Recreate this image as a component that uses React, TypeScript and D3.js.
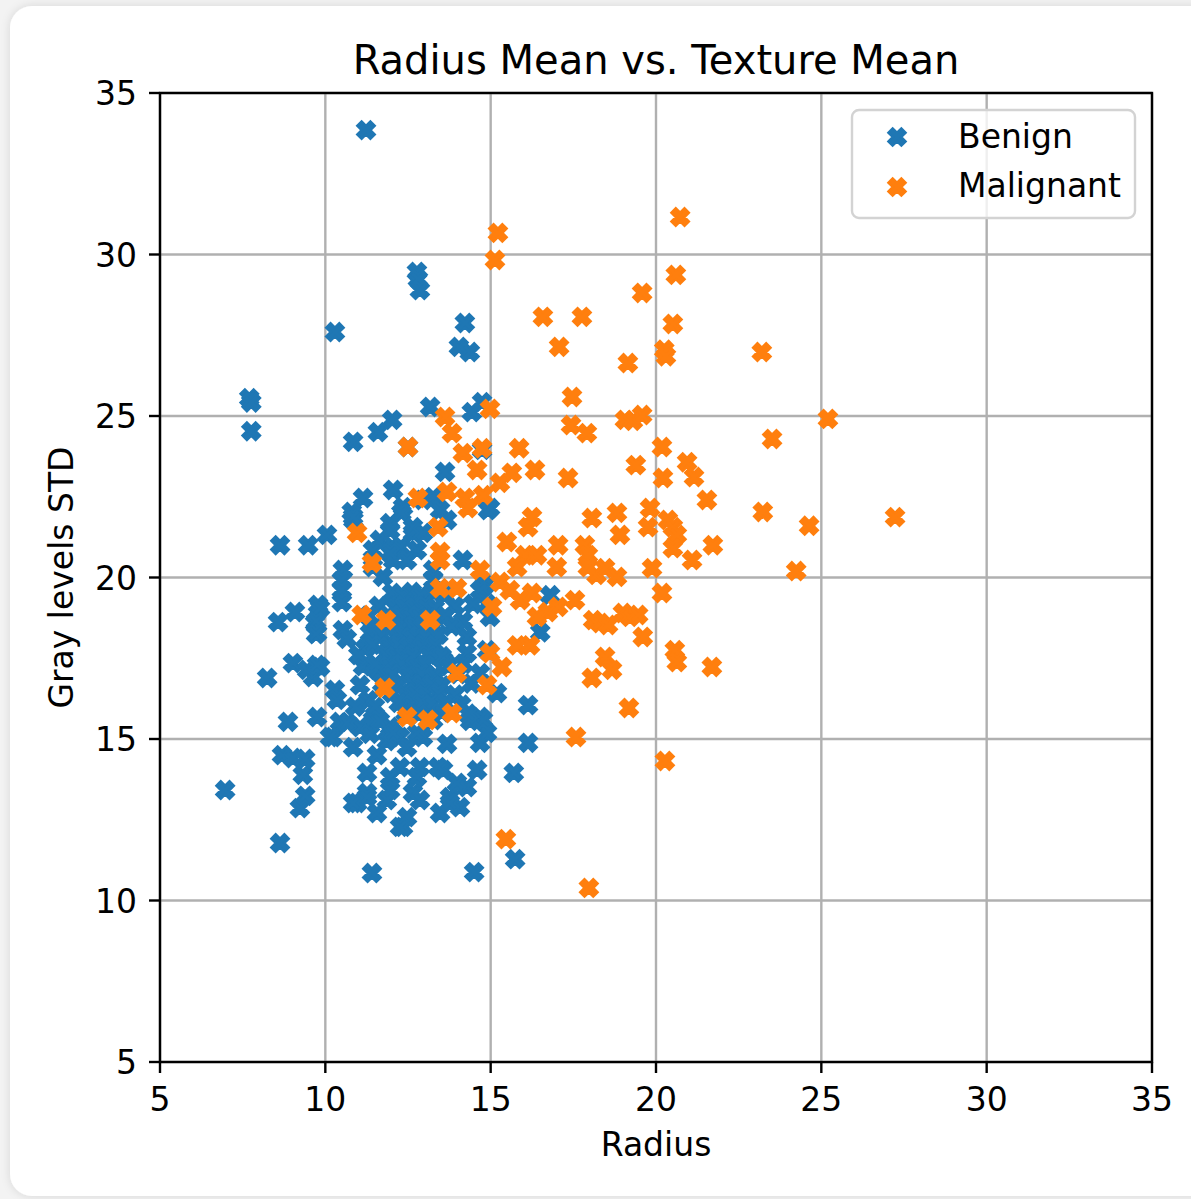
import React from 'react';
import * as d3 from 'd3';

const W = 1191;
const H = 1199;

const chartTitle = 'Radius Mean vs. Texture Mean';
const xLabel = 'Radius';
const yLabel = 'Gray levels STD';
const xTicks = [5, 10, 15, 20, 25, 30, 35];
const yTicks = [5, 10, 15, 20, 25, 30, 35];
const seriesNames = ['Benign', 'Malignant'];
const seriesColors = ['#1f77b4', '#ff7f0e'];

// [radius mean, texture mean]
const benign: [number, number][] = [
  [11.23, 33.85], [7.7, 25.55], [7.76, 25.42], [7.76, 24.53], [10.29, 27.6], [12.77, 29.46], [12.8, 29.24], [12.86, 28.9],
  [14.22, 27.88], [14.04, 27.14], [14.37, 26.98], [12.02, 24.88], [13.17, 25.28], [14.74, 25.43], [14.43, 25.12], [11.59, 24.5],
  [10.84, 24.2], [12.5, 24.04], [14.74, 23.95], [13.62, 23.27], [12.05, 22.71], [11.14, 22.46], [10.8, 22.03], [10.85, 21.78],
  [12.35, 22.18], [13.26, 22.49], [13.47, 22.09], [11.96, 21.68], [12.65, 21.38], [11.65, 21.16], [11.44, 20.85], [12.05, 20.94],
  [12.77, 20.85], [12.05, 20.54], [11.74, 20.02], [14.16, 20.54], [14.92, 22.09], [14.83, 19.77], [10.53, 20.23], [10.5, 19.92],
  [10.5, 19.61], [10.5, 19.24], [10.05, 21.32], [9.48, 21.0], [8.63, 21.0], [9.78, 19.15], [9.08, 18.93], [8.57, 18.62],
  [9.69, 18.59], [9.75, 18.28], [10.53, 18.37], [9.02, 17.35], [8.24, 16.89], [9.84, 17.23], [9.63, 16.92], [10.29, 16.52],
  [10.35, 16.21], [8.87, 15.53], [9.75, 15.68], [10.44, 15.53], [10.23, 15.06], [8.69, 14.5], [9.02, 14.41], [9.32, 13.89],
  [6.97, 13.42], [9.23, 12.86], [8.63, 11.78], [11.41, 10.85], [14.5, 10.88], [11.05, 15.37], [11.44, 15.59], [11.96, 15.37],
  [10.84, 14.75], [11.56, 14.5], [12.26, 15.06], [12.95, 15.06], [12.26, 14.13], [12.86, 14.13], [13.56, 14.04], [14.59, 14.04],
  [14.68, 14.88], [14.89, 15.19], [14.28, 13.51], [10.96, 13.02], [11.26, 13.33], [11.96, 13.42], [12.65, 13.33], [12.86, 13.11],
  [13.47, 12.71], [14.07, 12.89], [11.56, 12.71], [12.35, 12.28], [13.77, 13.2], [14.68, 15.68], [13.26, 15.59], [16.13, 14.88],
  [15.7, 13.95], [15.74, 11.28], [16.13, 16.05], [16.5, 18.3], [16.8, 19.45], [14.98, 22.15], [14.28, 18.16], [14.89, 17.75],
  [14.98, 18.78], [10.84, 21.88], [12.95, 22.4], [12.3, 22.0], [13.68, 21.78], [11.96, 21.46], [12.65, 21.56], [12.95, 21.38],
  [12.26, 20.94], [11.96, 20.76], [12.47, 20.54], [11.44, 20.32], [13.26, 20.23], [13.26, 19.92], [14.68, 19.61], [14.89, 19.18],
  [14.47, 19.18], [14.16, 18.65], [13.56, 18.75], [12.95, 19.37], [9.84, 19.05], [9.72, 18.65], [9.72, 18.25], [11.44, 18.37],
  [9.45, 17.14], [9.75, 17.29], [10.14, 15.06], [10.66, 15.5], [11.14, 17.26], [11.05, 16.67], [11.56, 17.14], [12.26, 17.54],
  [12.77, 17.14], [13.26, 16.83], [13.56, 17.45], [14.28, 17.66], [14.68, 17.04], [15.19, 16.42], [14.77, 15.59], [13.98, 13.64],
  [13.77, 13.02], [12.47, 12.58], [12.26, 12.28], [11.86, 13.11], [11.26, 13.2], [10.84, 13.02], [11.26, 13.95], [11.96, 13.82],
  [12.77, 13.82], [12.47, 14.75], [13.41, 14.13], [11.86, 14.94], [11.35, 15.16], [11.65, 15.56], [12.05, 15.19], [12.77, 15.19],
  [13.68, 14.85], [14.38, 15.56], [9.39, 14.38], [9.39, 13.24], [10.65, 18.1], [11.35, 18.28], [11.2, 17.8], [11.3, 16.2],
  [11.5, 16.0], [10.9, 16.0], [11.0, 17.6],
  // dense core
  [12.02, 19.52], [12.31, 19.47], [12.62, 19.55], [12.88, 19.44], [13.28, 19.53], [13.61, 19.46],
  [11.62, 19.12], [12.11, 19.06], [12.39, 19.14], [12.72, 19.08], [13.02, 19.13], [13.31, 19.05], [13.92, 19.11],
  [11.31, 18.82], [11.88, 18.77], [12.28, 18.84], [12.57, 18.78], [12.81, 18.83], [13.12, 18.76], [13.63, 18.81],
  [11.52, 18.48], [12.03, 18.53], [12.32, 18.46], [12.68, 18.52], [12.93, 18.47], [13.21, 18.54], [13.82, 18.49],
  [11.71, 18.22], [12.12, 18.17], [12.42, 18.23], [12.61, 18.16], [12.83, 18.21], [13.04, 18.18], [13.42, 18.23],
  [11.42, 17.92], [11.91, 17.87], [12.19, 17.93], [12.52, 17.88], [12.71, 17.94], [12.93, 17.86], [13.32, 17.91],
  [11.81, 17.62], [12.13, 17.57], [12.41, 17.63], [12.63, 17.58], [13.12, 17.61], [13.52, 17.56],
  [11.52, 17.32], [11.93, 17.27], [12.31, 17.33], [12.72, 17.28], [13.01, 17.31], [13.72, 17.26], [14.18, 17.33],
  [12.02, 17.02], [12.48, 16.97], [12.91, 17.03], [13.32, 16.98], [14.02, 17.01],
  [11.72, 16.72], [12.21, 16.67], [12.62, 16.73], [12.92, 16.68], [13.21, 16.71], [13.52, 16.66], [14.42, 16.72],
  [12.02, 16.42], [12.42, 16.37], [12.71, 16.43], [13.02, 16.38], [13.41, 16.42], [13.92, 16.37],
  [12.22, 16.12], [12.61, 16.07], [12.92, 16.13], [13.21, 16.08], [13.62, 16.11], [14.11, 16.06],
  [12.42, 15.82], [12.83, 15.77], [13.52, 15.83], [14.31, 15.78],
];

const malignant: [number, number][] = [
  [20.73, 31.16], [15.22, 30.67], [15.13, 29.83], [20.6, 29.37], [19.58, 28.81], [16.58, 28.07], [17.76, 28.07], [20.51, 27.85],
  [17.07, 27.14], [19.15, 26.64], [20.25, 27.05], [20.3, 26.85], [23.2, 26.98], [17.46, 25.59], [14.98, 25.22], [13.62, 24.97],
  [13.83, 24.47], [17.43, 24.72], [17.91, 24.47], [19.06, 24.88], [19.3, 24.85], [19.58, 25.03], [23.51, 24.29], [12.5, 24.04],
  [14.16, 23.85], [14.74, 24.0], [15.86, 24.0], [14.59, 23.33], [15.64, 23.24], [16.34, 23.33], [17.34, 23.08], [19.39, 23.48],
  [20.18, 24.04], [20.94, 23.57], [21.15, 23.11], [20.21, 23.08], [15.28, 22.93], [21.54, 22.4], [23.23, 22.03], [12.8, 22.46],
  [13.68, 22.65], [14.22, 22.46], [14.31, 22.15], [14.77, 22.55], [16.25, 21.87], [16.13, 21.56], [18.06, 21.84], [18.82, 22.0],
  [18.91, 21.32], [19.82, 22.15], [19.76, 21.56], [20.36, 21.78], [20.51, 21.56], [20.63, 21.32], [20.51, 20.91], [21.09, 20.54],
  [21.72, 21.0], [15.49, 21.1], [16.04, 20.69], [16.4, 20.69], [17.04, 21.0], [17.0, 20.32], [17.85, 21.0], [17.94, 20.69],
  [17.94, 20.32], [18.2, 20.08], [18.46, 20.29], [18.82, 20.02], [19.88, 20.29], [20.18, 19.52], [15.8, 20.32], [15.28, 19.86],
  [15.58, 19.61], [15.89, 19.3], [16.25, 19.52], [16.73, 18.93], [16.4, 18.78], [17.04, 19.09], [17.55, 19.3], [15.04, 19.09],
  [18.1, 18.68], [18.31, 18.59], [18.55, 18.53], [19.0, 18.9], [19.21, 18.78], [19.46, 18.84], [19.6, 18.16], [15.8, 17.9],
  [16.19, 17.9], [18.46, 17.54], [18.67, 17.14], [18.06, 16.89], [20.57, 17.75], [20.63, 17.38], [21.69, 17.23], [14.98, 17.66],
  [15.34, 17.23], [13.98, 17.04], [14.89, 16.67], [13.17, 18.68], [13.41, 21.56], [13.47, 20.79], [13.47, 20.54], [14.68, 20.23],
  [13.47, 19.67], [13.98, 19.67], [19.18, 15.96], [12.47, 15.68], [13.1, 15.59], [13.83, 15.8], [10.96, 21.38], [11.41, 20.45],
  [11.1, 18.84], [11.83, 18.68], [11.8, 16.58], [25.2, 24.91], [24.63, 21.6], [27.23, 21.87], [24.24, 20.2], [20.27, 14.32],
  [17.58, 15.06], [17.97, 10.39], [15.46, 11.9],
];

// matplotlib-style filled "X" marker outline, unit size
const xMarkerUnit: [number, number][] = [
  [0.25, 0], [0.5, 0.25], [0.25, 0.5], [0, 0.25], [-0.25, 0.5], [-0.5, 0.25],
  [-0.25, 0], [-0.5, -0.25], [-0.25, -0.5], [0, -0.25], [0.25, -0.5], [0.5, -0.25],
];

const FONT = '"DejaVu Sans", "Liberation Sans", sans-serif';

export default function App() {
  const left = 160, right = 1152, top = 93, bottom = 1062;
  const x = d3.scaleLinear().domain([5, 35]).range([left, right]);
  const y = d3.scaleLinear().domain([5, 35]).range([bottom, top]);

  const size = 17.5;
  const markerPath =
    (d3.line()(xMarkerUnit.map(([a, b]) => [a * size, b * size] as [number, number])) || '') + 'Z';

  const series = [benign, malignant];
  const tickLen = 11;
  const lw = 2.4;

  return (
    <svg
      width={W}
      height={H}
      viewBox={`0 0 ${W} ${H}`}
      style={{ position: 'absolute', left: 0, top: 0, display: 'block' }}
      fontFamily={FONT}
    >
      <defs>
        <filter id="cardShadow" x="-5%" y="-5%" width="110%" height="110%">
          <feDropShadow dx="0" dy="0" stdDeviation="5" floodColor="#000" floodOpacity="0.12" />
        </filter>
        <clipPath id="plotClip">
          <rect x={left} y={top} width={right - left} height={bottom - top} />
        </clipPath>
      </defs>
      <rect x={0} y={0} width={W} height={H} fill="#f3f3f3" />
      <rect x={10} y={6} width={1220} height={1190} rx={22} fill="#ffffff" filter="url(#cardShadow)" />

      {/* grid */}
      <g stroke="#b0b0b0" strokeWidth={lw}>
        {xTicks.map((t) => (
          <line key={`gx${t}`} x1={x(t)} x2={x(t)} y1={top} y2={bottom} />
        ))}
        {yTicks.map((t) => (
          <line key={`gy${t}`} y1={y(t)} y2={y(t)} x1={left} x2={right} />
        ))}
      </g>

      {/* points */}
      <g clipPath="url(#plotClip)">
        {series.map((pts, si) => (
          <g key={seriesNames[si]} fill={seriesColors[si]} stroke={seriesColors[si]} strokeWidth={2.4} strokeLinejoin="miter">
            {pts.map(([r, t], i) => (
              <path key={i} d={markerPath} transform={`translate(${x(r)},${y(t)})`} />
            ))}
          </g>
        ))}
      </g>

      {/* spines */}
      <rect x={left} y={top} width={right - left} height={bottom - top} fill="none" stroke="#000" strokeWidth={lw} />

      {/* ticks */}
      <g stroke="#000" strokeWidth={lw}>
        {xTicks.map((t) => (
          <line key={`tx${t}`} x1={x(t)} x2={x(t)} y1={bottom} y2={bottom + tickLen} />
        ))}
        {yTicks.map((t) => (
          <line key={`ty${t}`} x1={left - tickLen} x2={left} y1={y(t)} y2={y(t)} />
        ))}
      </g>
      <g fontSize={33} fill="#000">
        {xTicks.map((t) => (
          <text key={`lx${t}`} x={x(t)} y={1111} textAnchor="middle">{t}</text>
        ))}
        {yTicks.map((t) => (
          <text key={`ly${t}`} x={137} y={y(t) + 12} textAnchor="end">{t}</text>
        ))}
      </g>

      <text x={(left + right) / 2} y={74} textAnchor="middle" fontSize={40} fill="#000">{chartTitle}</text>
      <text x={(left + right) / 2} y={1156} textAnchor="middle" fontSize={33} fill="#000">{xLabel}</text>
      <text
        transform={`translate(73,${(top + bottom) / 2}) rotate(-90)`}
        textAnchor="middle"
        fontSize={33}
        fill="#000"
      >
        {yLabel}
      </text>

      {/* legend */}
      <g>
        <rect x={852} y={110} width={283} height={108} rx={7} fill="#ffffff" fillOpacity={0.8} stroke="#d3d3d3" strokeWidth={2.4} />
        {seriesNames.map((name, i) => (
          <g key={name}>
            <path
              d={markerPath}
              transform={`translate(897,${137 + i * 50})`}
              fill={seriesColors[i]}
              stroke={seriesColors[i]}
              strokeWidth={2.2}
            />
            <text x={958} y={148 + i * 49} fontSize={33} fill="#000">{name}</text>
          </g>
        ))}
      </g>
    </svg>
  );
}
